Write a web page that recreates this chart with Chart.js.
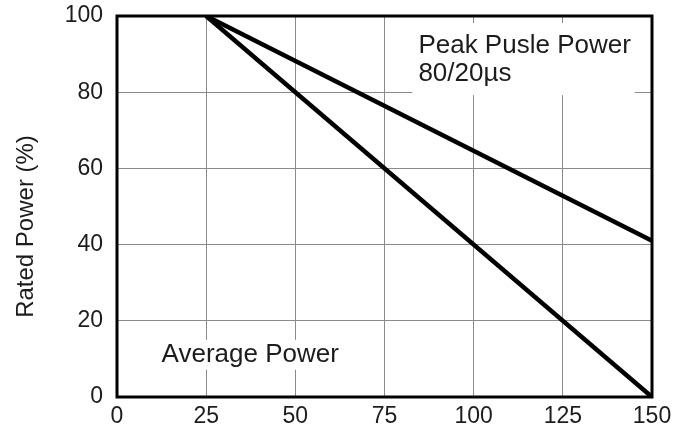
<!DOCTYPE html>
<html>
<head>
<meta charset="utf-8">
<script src="https://cdn.jsdelivr.net/npm/chart.js@4/dist/chart.umd.min.js"></script>
<style>
  html, body { margin: 0; padding: 0; background: #fff; }
  #wrap { width: 673px; height: 428px; }
</style>
</head>
<body>
<div id="wrap"><canvas id="derating"></canvas></div>
<script>
'use strict';

// values
const temps        = [25, 150];
const averagePower = [100, 0];
const peakPower    = [100, 41];
const xTicks       = [0, 25, 50, 75, 100, 125, 150];
const yTicks       = [0, 20, 40, 60, 80, 100];
const yTitle       = 'Rated Power (%)';

const FONT = '"Liberation Sans", Arial, sans-serif';
const INK  = '#1c1c1c';

const toPoints = ys => temps.map((x, i) => ({ x, y: ys[i] }));

// text labels placed in data space, with a white patch behind them
const labels = [
  { lines: ['Peak Pusle Power', '80/20\u00b5s'], x: 84.5, y: 95.5, padTop: 10, padBot: 6 },
  { lines: ['Average Power'],                   x: 12.5, y: 14.5, padTop: 2,  padBot: 0 },
];

const labelPlugin = {
  id: 'labels',
  afterDatasetsDraw(chart) {
    const { ctx, scales: { x, y } } = chart;
    ctx.save();
    ctx.font = `26px ${FONT}`;
    ctx.textBaseline = 'top';
    for (const l of labels) {
      const px = x.getPixelForValue(l.x);
      const py = y.getPixelForValue(l.y);
      const w  = Math.max(...l.lines.map(t => ctx.measureText(t).width));
      ctx.fillStyle = '#fff';
      ctx.fillRect(px - 6, py - l.padTop, w + 10, l.lines.length * 28 + l.padTop + l.padBot);
      ctx.fillStyle = INK;
      l.lines.forEach((t, i) => ctx.fillText(t, px, py + i * 28));
    }
    ctx.restore();
  },
  afterDraw(chart) {
    const { ctx, chartArea: a } = chart;
    ctx.save();
    ctx.strokeStyle = '#000';
    ctx.lineWidth = 3;
    ctx.strokeRect(a.left, a.top, a.right - a.left, a.bottom - a.top);

    // axis title, sits a little below the middle in the reference
    ctx.translate(26, (a.top + a.bottom) / 2 + 20);
    ctx.rotate(-Math.PI / 2);
    ctx.font = `24px ${FONT}`;
    ctx.fillStyle = INK;
    ctx.textAlign = 'center';
    ctx.textBaseline = 'middle';
    ctx.fillText(yTitle, 0, 0);
    ctx.restore();
  },
};

new Chart(document.getElementById('derating'), {
  type: 'scatter',
  data: {
    datasets: [
      { label: 'Average Power',    data: toPoints(averagePower) },
      { label: 'Peak Pusle Power', data: toPoints(peakPower) },
    ],
  },
  options: {
    responsive: true,
    maintainAspectRatio: false,
    animation: false,
    showLine: true,
    layout: { padding: { top: 16, right: 21, left: 0, bottom: 0 } },
    elements: {
      line:  { borderColor: '#000', borderWidth: 4.5, tension: 0 },
      point: { radius: 0 },
    },
    plugins: {
      legend:  { display: false },
      tooltip: { enabled: false },
    },
    scales: {
      x: {
        type: 'linear',
        min: 0,
        max: 150,
        afterBuildTicks: s => { s.ticks = xTicks.map(value => ({ value })); },
        afterFit: s => { s.height = 31; s.paddingLeft = 0; s.paddingRight = 0; },
        ticks: { color: INK, font: { family: FONT, size: 23 }, padding: 6 },
        grid:  { color: '#8a8a8a', lineWidth: 1, drawTicks: false },
        border: { display: false },
      },
      y: {
        min: 0,
        max: 100,
        afterBuildTicks: s => { s.ticks = yTicks.map(value => ({ value })); },
        afterFit: s => { s.width = 117; s.paddingTop = 0; s.paddingBottom = 0; },
        ticks: { color: INK, font: { family: FONT, size: 23 }, padding: 14 },
        grid:  { color: '#8a8a8a', lineWidth: 1, drawTicks: false },
        border: { display: false },
      },
    },
  },
  plugins: [labelPlugin],
});
</script>
</body>
</html>
